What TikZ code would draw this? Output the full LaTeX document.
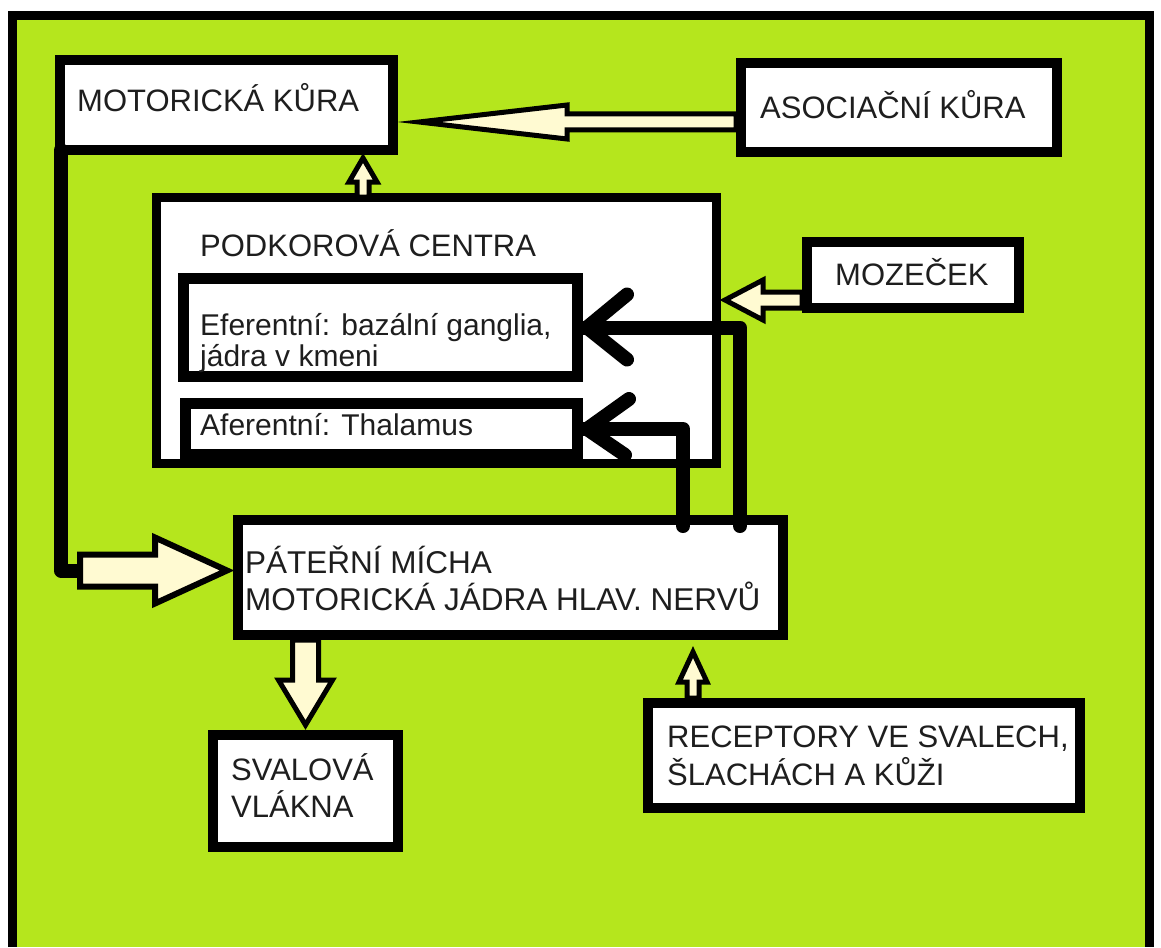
\documentclass[tikz,border=0pt]{standalone}
\usepackage{fontspec}
\setmainfont{Liberation Sans}
\usetikzlibrary{calc}
\definecolor{paintgreen}{HTML}{B5E61D}
\definecolor{cream}{HTML}{FFFAD2}
\definecolor{inkgray}{HTML}{1E1E1E}

\begin{document}
\begin{tikzpicture}[x=1pt,y=-1pt,
  box/.style={draw=black, fill=white, line width=10pt, inner sep=0pt},
  txt/.style={anchor=base west, inner sep=0pt, text=inkgray, font=\fontsize{31}{33}\selectfont},
  small/.style={txt, font=\fontsize{30}{30}\selectfont},
  blockarrow/.style={draw=black, fill=cream, line width=5pt, line join=miter, miter limit=40},
  nerve/.style={draw=black, line width=14pt, line cap=round, line join=round}]
\useasboundingbox (0,0) rectangle (1161,947);
% background and frame
\fill[white] (0,0) rectangle (1161,947);
\fill[paintgreen] (12,16) rectangle (1150,947);
\draw[line width=9pt] (12.5,947) -- (12.5,16) -- (1149.5,16) -- (1149.5,947);

% boxes
\node[box, minimum width=333, minimum height=90] (motor) at (226.5,105) {};
\node[box, minimum width=316, minimum height=89] (asoc) at (899,107.5) {};
\node[box, line width=9pt, minimum width=560, minimum height=266] (podk) at (436.5,330.5) {};
\node[box, line width=11pt, minimum width=394, minimum height=98] (efer) at (380.5,327.5) {};
\node[box, line width=11pt, minimum width=392, minimum height=51] (afer) at (381.5,429) {};
\node[box, minimum width=212, minimum height=66] (moz) at (913,275) {};
\node[box, minimum width=545, minimum height=115] (spine) at (510.5,577.5) {};
\node[box, minimum width=185, minimum height=112] (svalo) at (305.5,791) {};
\node[box, minimum width=432, minimum height=105] (recep) at (864,755.5) {};

% texts
\node[txt] (motortxt) at (77,112) {MOTORICKÁ KŮRA};
\node[txt] (asoctxt) at (760,118) {ASOCIAČNÍ KŮRA};
\node[txt] (podktxt) at (200,256) {PODKOROVÁ CENTRA};
\node[txt] (moztxt) at (835,285) {MOZEČEK};
\node[small] (efertxt) at (200,335) {\begin{tabular}[t]{@{}l@{}}Eferentní: bazální ganglia,\\ jádra v kmeni\end{tabular}};
\node[small] (afertxt) at (200,435) {Aferentní: Thalamus};
\node[txt, font=\fontsize{31.5}{30}\selectfont] (spinetxt) at (245,573) {\begin{tabular}[t]{@{}l@{}}PÁTEŘNÍ MÍCHA\\ MOTORICKÁ JÁDRA HLAV. NERVŮ\end{tabular}};
\node[txt, font=\fontsize{31}{35}\selectfont] (svalotxt) at (231,780) {\begin{tabular}[t]{@{}l@{}}SVALOVÁ\\ VLÁKNA\end{tabular}};
\node[txt, font=\fontsize{31}{35}\selectfont] (receptxt) at (667,747) {\begin{tabular}[t]{@{}l@{}}RECEPTORY VE SVALECH,\\ ŠLACHÁCH A KŮŽI\end{tabular}};

% nerve paths
\coordinate (tail) at ($(spine.west)+(-153,-7)$);
\draw[nerve] ($(motor.south west)+(6,-5)$) |- (tail);
\draw[nerve] ($(spine.north east)+(-48,11)$) |- (efer.east);
\draw[nerve] ($(efer.east)+(44,-33)$) -- ($(efer.east)+(4,0)$) -- ($(efer.east)+(44,32)$);
\draw[nerve] ($(spine.north west)+(450,11)$) |- (afer.east);
\draw[nerve] ($(afer.east)+(46,-30)$) -- ($(afer.east)+(4,0)$) -- ($(afer.east)+(42,26)$);

% block arrows
\draw[blockarrow, shift={($(motor.east)+(0,17)$)}] (21,0) -- (169,-17) -- (169,-8) -- (338,-8) -- (338,8) -- (169,8) -- (169,17) -- cycle;
\draw[blockarrow, shift={($(motor.south east)+(-35,0)$)}] (0,3) -- (14,27) -- (6,27) -- (6,42) -- (-6,42) -- (-6,27) -- (-14,27) -- cycle;
\draw[blockarrow, shift={($(podk.east |- moz.west)+(0,25)$)}] (4,0) -- (42,-20) -- (42,-8) -- (81,-8) -- (81,8) -- (42,8) -- (42,20) -- cycle;
\draw[blockarrow, line width=6pt, shift={($(spine.west)+(0,-7)$)}] (-6,0) -- (-78,-33) -- (-78,-16) -- (-153,-16) -- (-153,16) -- (-78,16) -- (-78,33) -- cycle;
\draw[blockarrow, shift={(svalo.north)}] (0,-5) -- (27,-50) -- (13,-50) -- (13,-90) -- (-13,-90) -- (-13,-50) -- (-27,-50) -- cycle;
\draw[blockarrow, shift={($(recep.north west)+(50,0)$)}] (0,-46) -- (14,-16) -- (6,-16) -- (6,0) -- (-6,0) -- (-6,-16) -- (-14,-16) -- cycle;
\end{tikzpicture}
\end{document}
